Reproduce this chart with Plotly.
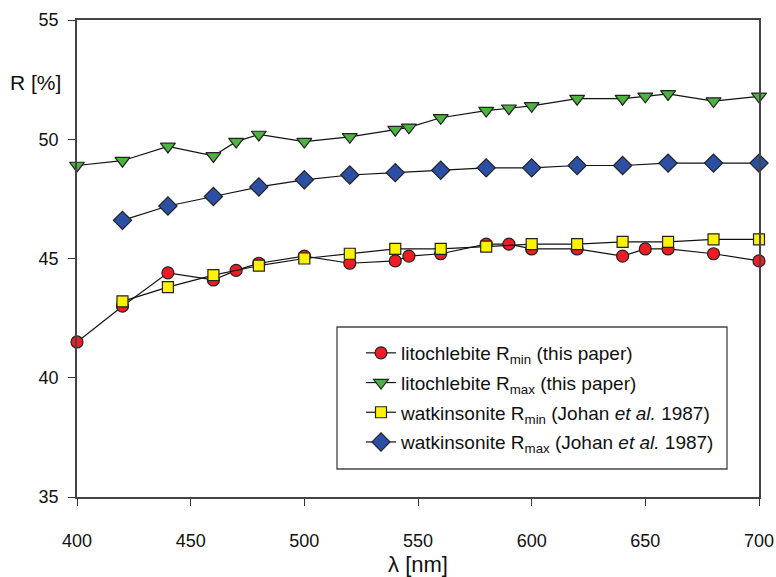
import plotly.graph_objects as go

# Litochlebite Rmin (this paper)
lit_min_x = [400, 420, 440, 460, 470, 480, 500, 520, 540, 546, 560, 580, 590, 600, 620, 640, 650, 660, 680, 700]
lit_min_y = [41.5, 43.0, 44.4, 44.1, 44.5, 44.8, 45.1, 44.8, 44.9, 45.1, 45.2, 45.6, 45.6, 45.4, 45.4, 45.1, 45.4, 45.4, 45.2, 44.9]

# Litochlebite Rmax (this paper)
lit_max_x = [400, 420, 440, 460, 470, 480, 500, 520, 540, 546, 560, 580, 590, 600, 620, 640, 650, 660, 680, 700]
lit_max_y = [48.9, 49.1, 49.7, 49.3, 49.9, 50.2, 49.9, 50.1, 50.4, 50.5, 50.9, 51.2, 51.3, 51.4, 51.7, 51.7, 51.8, 51.9, 51.6, 51.8]

# Watkinsonite Rmin (Johan et al. 1987)
wat_min_x = [420, 440, 460, 480, 500, 520, 540, 560, 580, 600, 620, 640, 660, 680, 700]
wat_min_y = [43.2, 43.8, 44.3, 44.7, 45.0, 45.2, 45.4, 45.4, 45.5, 45.6, 45.6, 45.7, 45.7, 45.8, 45.8]

# Watkinsonite Rmax (Johan et al. 1987)
wat_max_x = [420, 440, 460, 480, 500, 520, 540, 560, 580, 600, 620, 640, 660, 680, 700]
wat_max_y = [46.6, 47.2, 47.6, 48.0, 48.3, 48.5, 48.6, 48.7, 48.8, 48.8, 48.9, 48.9, 49.0, 49.0, 49.0]

x_ticks = [400, 450, 500, 550, 600, 650, 700]
y_ticks = [35, 40, 45, 50, 55]

FONT = "Liberation Sans, Arial, sans-serif"
line_style = dict(color="#111111", width=1.2)

L, R, T, B = 77, 17, 20, 80
W, H = 776, 577
plot_w = W - L - R
plot_h = H - T - B


def px_x(p):
    return (p - L) / plot_w


def px_y(p):
    return (H - B - p) / plot_h


fig = go.Figure()
fig.add_trace(go.Scatter(
    x=lit_min_x, y=lit_min_y, mode="lines+markers", legendgroup="a",
    name="litochlebite R<sub>min</sub> (this paper)",
    line=line_style,
    marker=dict(symbol="circle", size=12, color="#ee1c25", line=dict(color="#222222", width=1.2)),
    cliponaxis=False,
))
fig.add_trace(go.Scatter(
    x=lit_max_x, y=lit_max_y, mode="lines+markers", legendgroup="b",
    name="litochlebite R<sub>max</sub> (this paper)",
    line=line_style,
    marker=dict(symbol="triangle-down", size=13, color="#4db23f", line=dict(color="#222222", width=1.2)),
    cliponaxis=False,
))
fig.add_trace(go.Scatter(
    x=wat_min_x, y=wat_min_y, mode="lines+markers", legendgroup="c",
    name="watkinsonite R<sub>min</sub> (Johan <i>et al.</i> 1987)",
    line=line_style,
    marker=dict(symbol="square", size=11, color="#fff200", line=dict(color="#222222", width=1.2)),
    cliponaxis=False,
))
fig.add_trace(go.Scatter(
    x=wat_max_x, y=wat_max_y, mode="lines+markers", legendgroup="d",
    name="watkinsonite R<sub>max</sub> (Johan <i>et al.</i> 1987)",
    line=line_style,
    marker=dict(symbol="diamond", size=14, color="#2b4fa2", line=dict(color="#222222", width=1.2)),
    cliponaxis=False,
))

axis_common = dict(
    showgrid=False, zeroline=False, showline=True, linecolor="#444444", linewidth=1.5,
    mirror=True, ticks="outside", ticklen=7, tickwidth=1.3, tickcolor="#333333",
    tickfont=dict(family=FONT, size=18, color="#111111"), automargin=False,
)

fig.update_layout(
    width=W, height=H,
    margin=dict(l=L, r=R, t=T, b=B),
    paper_bgcolor="white", plot_bgcolor="white",
    font=dict(family=FONT, size=18, color="#111111"),
    xaxis=dict(range=[400, 700], tickvals=x_ticks, ticklabelstandoff=20,
               title=dict(text="λ [nm]", font=dict(family=FONT, size=22), standoff=6),
               **axis_common),
    yaxis=dict(range=[35, 55], tickvals=y_ticks, ticklabelstandoff=6, **axis_common),
    legend=dict(
        x=px_x(361), y=px_y(334), xanchor="left", yanchor="top",
        bgcolor="rgba(0,0,0,0)", borderwidth=0,
        font=dict(family=FONT, size=19, color="#111111"),
        tracegroupgap=2,
    ),
    showlegend=True,
)
# legend frame
fig.add_shape(
    type="rect", xref="paper", yref="paper",
    x0=px_x(337), x1=px_x(727), y0=px_y(469), y1=px_y(327),
    line=dict(color="#444444", width=1.3), fillcolor="white", layer="below",
)
fig.add_annotation(
    text="R [%]", x=px_x(8), y=px_y(83),
    xref="paper", yref="paper", showarrow=False,
    font=dict(family=FONT, size=21, color="#111111"), xanchor="left", yanchor="middle",
)

fig.write_html("out.html")
